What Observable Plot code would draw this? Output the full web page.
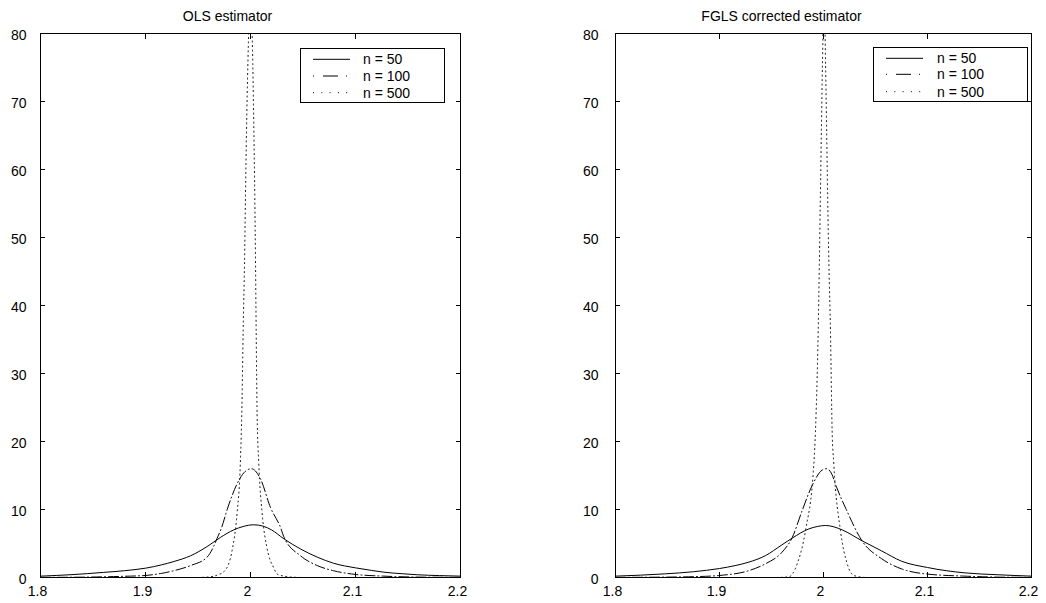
<!DOCTYPE html>
<html>
<head>
<meta charset="utf-8">
<script src="https://cdn.jsdelivr.net/npm/d3@7"></script>
<script src="https://cdn.jsdelivr.net/npm/@observablehq/plot@0.6"></script>
<style>
  html, body { margin: 0; padding: 0; background: white; }
  #row { display: flex; flex-direction: row; width: 1046px; height: 603px; }
  .panel { position: relative; }
  .legend { position: absolute; background: white; border: 1.5px solid black; box-sizing: border-box; }
  .legend svg { position: absolute; left: 0; top: 0; overflow: visible; }
  .legend text { font-family: "Liberation Sans", Arial, sans-serif; font-size: 14px; fill: black; }
</style>
</head>
<body>
<div id="row"></div>
<script>
// ---- tick labels and titles ----
const xTicks = [1.8, 1.9, 2.0, 2.1, 2.2];
const yTicks = [0, 10, 20, 30, 40, 50, 60, 70, 80];
const titles = ["OLS estimator", "FGLS corrected estimator"];
const seriesNames = ["n = 50", "n = 100", "n = 500"];

// ---- OLS estimator densities ----
const olsX50 = [1.80, 1.83, 1.86, 1.88, 1.90, 1.915, 1.927, 1.943, 1.9587, 1.9714, 1.984, 1.993, 2.003, 2.012, 2.02, 2.0317, 2.0476, 2.0635, 2.079, 2.10, 2.115, 2.127, 2.145, 2.159, 2.18, 2.20];
const olsY50 = [0.2, 0.42, 0.75, 1.0, 1.37, 1.85, 2.35, 3.2, 4.55, 5.9, 7.0, 7.5, 7.75, 7.55, 7.0, 5.7, 4.2, 3.0, 2.1, 1.42, 1.05, 0.78, 0.55, 0.4, 0.28, 0.2];

const olsX100 = [1.80, 1.84, 1.86, 1.88, 1.90, 1.915, 1.927, 1.943, 1.9587, 1.965, 1.968, 1.9724, 1.9778, 1.9873, 1.995, 2.001, 2.0095, 2.019, 2.029, 2.0317, 2.0476, 2.0635, 2.079, 2.10, 2.127, 2.16, 2.20];
const olsY100 = [0.02, 0.05, 0.1, 0.18, 0.3, 0.6, 1.0, 1.76, 3.0, 4.6, 5.7, 7.3, 10.0, 13.8, 15.6, 16.0, 14.5, 10.3, 7.2, 6.0, 3.2, 1.76, 1.0, 0.45, 0.2, 0.06, 0.02];

const olsX500 = [1.95, 1.962, 1.969, 1.975, 1.9825, 1.9873, 1.9903, 1.992, 1.993, 1.9943, 1.9952, 1.9962, 1.9975, 2.000, 2.0022, 2.0032, 2.0041, 2.0048, 2.0054, 2.0063, 2.0079, 2.011, 2.0159, 2.0222, 2.0254, 2.032, 2.04, 2.05];
const olsY500 = [0, 0.1, 0.4, 0.9, 4.0, 9.6, 16.7, 26.5, 36.3, 46.1, 55.9, 65.7, 75.5, 86, 75.5, 65.7, 55.9, 46.1, 36.3, 24.0, 16.7, 9.6, 4.2, 1.4, 0.5, 0.2, 0.05, 0];

// ---- FGLS corrected estimator densities ----
const fglsX50 = [1.80, 1.848, 1.875, 1.90, 1.915, 1.928, 1.944, 1.960, 1.970, 1.986, 1.994, 2.002, 2.010, 2.018, 2.037, 2.056, 2.075, 2.10, 2.118, 2.136, 2.168, 2.20];
const fglsY50 = [0.2, 0.54, 0.85, 1.32, 1.75, 2.25, 3.2, 4.8, 5.8, 7.15, 7.5, 7.65, 7.45, 7.0, 5.4, 3.9, 2.4, 1.47, 1.0, 0.68, 0.4, 0.2];

const fglsX100 = [1.80, 1.85, 1.875, 1.90, 1.928, 1.944, 1.960, 1.970, 1.9795, 1.989, 1.9987, 2.003, 2.008, 2.012, 2.0216, 2.037, 2.056, 2.075, 2.10, 2.136, 2.17, 2.20];
const fglsY100 = [0.02, 0.06, 0.12, 0.3, 1.0, 2.0, 3.7, 5.9, 9.85, 13.5, 15.8, 16.0, 15.2, 13.5, 10.1, 5.4, 2.75, 1.27, 0.5, 0.2, 0.05, 0.02];

const fglsX500 = [1.955, 1.9667, 1.9747, 1.9827, 1.9907, 1.9923, 1.9949, 1.996, 1.997, 1.998, 1.999, 2.0005, 2.002, 2.003, 2.004, 2.0052, 2.0067, 2.0083, 2.0099, 2.0163, 2.0228, 2.0291, 2.04];
const fglsY500 = [0, 0.1, 2.0, 6.9, 16.7, 21.6, 36.3, 46, 56, 66, 75.5, 86, 75.5, 66, 56, 46, 36.3, 21.6, 16.7, 6.9, 2.0, 0.3, 0];

const curveDash = [null, "10,3,1,3", "1,3.5"];
const legendDash = [null, "1,9,15,8,1,10", "1,7.3"];

function table(xs, ys) { return xs.map((x, i) => ({x, y: ys[i]})); }

const panels = [
  {
    title: titles[0], width: 520, marginLeft: 40, marginRight: 60, labelPad: 14, titleDx: -23,
    series: [table(olsX50, olsY50), table(olsX100, olsY100), table(olsX500, olsY500)],
    legend: {left: 300, top: 48, width: 145, height: 55, rows: [10.3, 27, 43.7], lineX0: 12, lineX1: 49, textX: 62}
  },
  {
    title: titles[1], width: 526, marginLeft: 95, marginRight: 15, labelPad: 17, titleDx: -42,
    series: [table(fglsX50, fglsY50), table(fglsX100, fglsY100), table(fglsX500, fglsY500)],
    legend: {left: 353, top: 47, width: 155, height: 55, rows: [10.3, 26.3, 43.7], lineX0: 12, lineX1: 49, textX: 63}
  }
];

const row = document.getElementById("row");
const font = "'Liberation Sans', Arial, Helvetica, sans-serif";

for (const p of panels) {
  const chart = Plot.plot({
    width: p.width,
    height: 603,
    marginLeft: p.marginLeft,
    marginRight: p.marginRight,
    marginTop: 33,
    marginBottom: 26,
    x: {domain: [1.8, 2.2]},
    y: {domain: [0, 80]},
    style: {fontFamily: font, fontSize: "14px", color: "black", background: "white", overflow: "visible"},
    marks: [
      ...p.series.map((s, i) => Plot.line(s, {
        x: "x", y: "y", stroke: "black", strokeWidth: 1,
        strokeDasharray: curveDash[i], curve: "monotone-x", clip: true
      })),
      Plot.frame({stroke: "black", strokeWidth: 1}),
      // inward ticks on all four sides
      Plot.axisX({anchor: "bottom", ticks: xTicks, tickSize: 5, dy: -5, tickFormat: () => "", label: null}),
      Plot.axisX({anchor: "top", ticks: xTicks, tickSize: 5, dy: 5, tickFormat: () => "", label: null}),
      Plot.axisY({anchor: "left", ticks: yTicks, tickSize: 5, dx: 5, tickFormat: () => "", label: null}),
      Plot.axisY({anchor: "right", ticks: yTicks, tickSize: 5, dx: -5, tickFormat: () => "", label: null}),
      // tick labels
      Plot.axisX({anchor: "bottom", ticks: xTicks, tickSize: 0, tickPadding: 9, dx: -3, tickFormat: d => String(+d.toFixed(1)), label: null, fontSize: 14}),
      Plot.axisY({anchor: "left", ticks: yTicks, tickSize: 0, tickPadding: p.labelPad, dy: 2, tickFormat: d => String(d), label: null, fontSize: 14}),
      // title
      Plot.text([p.title], {text: d => d, frameAnchor: "top", dy: -17, dx: p.titleDx, lineAnchor: "middle", fontSize: 14, fill: "black"})
    ]
  });

  const wrap = document.createElement("div");
  wrap.className = "panel";
  wrap.style.width = p.width + "px";
  wrap.style.height = "603px";
  wrap.appendChild(chart);

  // legend
  const L = p.legend;
  const lg = document.createElement("div");
  lg.className = "legend";
  lg.style.left = L.left + "px";
  lg.style.top = L.top + "px";
  lg.style.width = L.width + "px";
  lg.style.height = L.height + "px";
  const svgNS = "http://www.w3.org/2000/svg";
  const svg = document.createElementNS(svgNS, "svg");
  svg.setAttribute("width", L.width);
  svg.setAttribute("height", L.height);
  seriesNames.forEach((name, i) => {
    const yy = L.rows[i];
    const ln = document.createElementNS(svgNS, "line");
    ln.setAttribute("x1", L.lineX0); ln.setAttribute("x2", L.lineX1);
    ln.setAttribute("y1", yy); ln.setAttribute("y2", yy);
    ln.setAttribute("stroke", "black"); ln.setAttribute("stroke-width", 1);
    if (legendDash[i]) ln.setAttribute("stroke-dasharray", legendDash[i]);
    svg.appendChild(ln);
    const tx = document.createElementNS(svgNS, "text");
    tx.setAttribute("x", L.textX); tx.setAttribute("y", yy + 5);
    tx.textContent = name;
    svg.appendChild(tx);
  });
  lg.appendChild(svg);
  wrap.appendChild(lg);
  row.appendChild(wrap);
}
</script>
</body>
</html>
